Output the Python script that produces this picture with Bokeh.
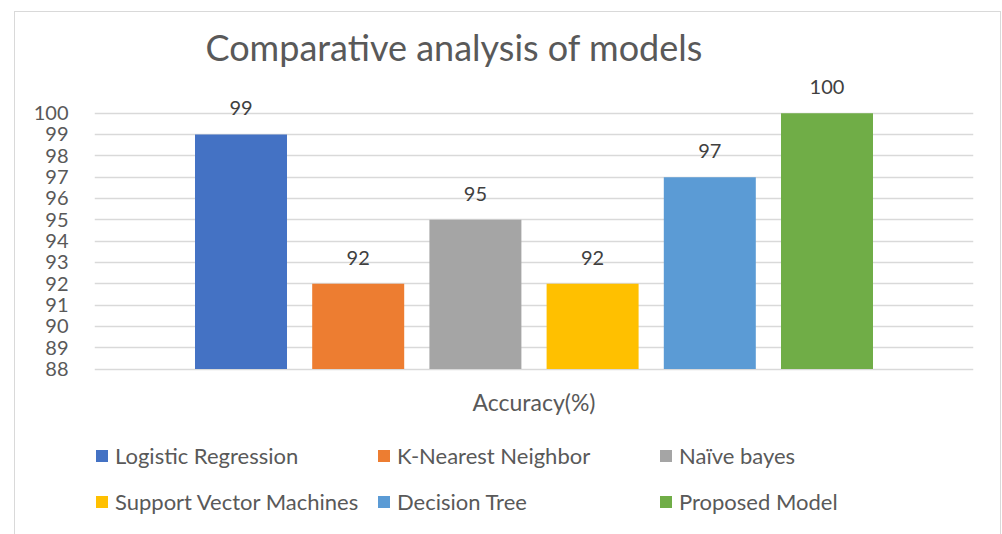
from bokeh.plotting import figure
from bokeh.models import ColumnDataSource, FixedTicker, Legend, LegendItem
from bokeh.core.properties import value
from bokeh.embed import file_html
from bokeh.resources import INLINE

# ---- data ----
models = ["Logistic Regression", "K-Nearest Neighbor", "Naïve bayes",
          "Support Vector Machines", "Decision Tree", "Proposed Model"]
accuracy = [99, 92, 95, 92, 97, 100]
colors = ["#4472C4", "#ED7D31", "#A5A5A5", "#FFC000", "#5B9BD5", "#70AD47"]
category = "Accuracy(%)"
y_ticks = list(range(88, 101))
title_text = "Comparative analysis of models"

FONT = "Lato"
TXT = "#595959"
BASE = 88

positions = [i - (len(models) - 1) / 2 for i in range(len(models))]

src = ColumnDataSource(dict(
    x=positions, top=accuracy, color=colors, model=models,
    label=[str(a) for a in accuracy],
))
cat_src = ColumnDataSource(dict(x=[0], y=[BASE], text=[category]))

p = figure(width=987, height=523, output_backend="svg", toolbar_location=None,
           x_range=(-3.75, 3.75), y_range=(80.2, 102),
           min_border_left=79, min_border_right=29,
           min_border_top=58, min_border_bottom=0)
p.margin = (11, 0, 0, 14)
p.styles = {"border": "1px solid #d9d9d9", "border-bottom": "none",
            "box-sizing": "border-box"}

p.background_fill_color = "white"
p.border_fill_color = "white"
p.outline_line_color = None

bars = p.vbar(x="x", top="top", bottom=BASE, width=0.785, fill_color="color",
              line_color=None, source=src)

p.text(x="x", y="top", text="label", y_offset=-26, text_align="center",
       text_baseline="middle", text_font=value(FONT), text_font_size="20px",
       text_color="#404040", source=src)

# category label under the axis line
p.text(x="x", y="y", text="text", y_offset=33, text_align="center",
       text_baseline="middle", text_font=value(FONT), text_font_size="23px",
       text_color=TXT, source=cat_src)

# y axis
p.yaxis.ticker = FixedTicker(ticks=y_ticks)
p.yaxis.axis_line_color = None
p.yaxis.major_tick_line_color = None
p.yaxis.minor_tick_line_color = None
p.yaxis.major_label_standoff = 20
p.yaxis.major_label_text_font = FONT
p.yaxis.major_label_text_font_size = "20px"
p.yaxis.major_label_text_color = TXT

p.xaxis.visible = False
p.xgrid.grid_line_color = None
p.ygrid.grid_line_color = "#d9d9d9"
p.ygrid.grid_line_width = 1.5

# title
p.title.text = title_text
p.title.align = "left"
p.title.offset = 111
p.title.text_font = FONT
p.title.text_font_size = "36px"
p.title.text_font_style = "normal"
p.title.text_color = TXT
p.title.standoff = 3

# legend
items = [LegendItem(label=m, renderers=[bars], index=i) for i, m in enumerate(models)]
legend = Legend(items=items, location=(0, 14), orientation="horizontal", ncols=3,
                glyph_width=15, glyph_height=15, label_standoff=6, label_width=255,
                label_height=40, spacing=6, padding=0, margin=0,
                border_line_color=None, background_fill_alpha=0,
                label_text_font=FONT, label_text_font_size="22px",
                label_text_color=TXT)
p.add_layout(legend, "center")

open("out.html", "w").write(file_html(p, INLINE))
